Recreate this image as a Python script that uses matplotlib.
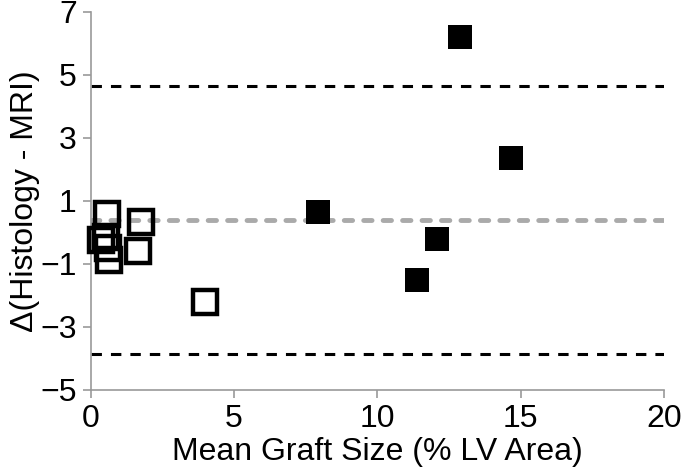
import numpy as np
import matplotlib
matplotlib.use('Agg')
import matplotlib.pyplot as plt

plt.rcParams['font.family'] = ['Liberation Sans', 'DejaVu Sans']
plt.rcParams['lines.scale_dashes'] = False

# open squares (small grafts)
open_x = [0.58, 1.75, 1.64, 0.35, 0.55, 0.60, 0.63, 3.99]
open_y = [0.57, 0.32, -0.60, -0.25, -0.15, -0.50, -0.87, -2.20]

# filled squares (large grafts)
fill_x = [12.87, 14.65, 7.93, 12.07, 11.40]
fill_y = [6.21, 2.36, 0.65, -0.21, -1.50]

bias = 0.40
upper_loa = 4.65
lower_loa = -3.86

xticks = [0, 5, 10, 15, 20]
yticks = [-5, -3, -1, 1, 3, 5, 7]

fig = plt.figure(figsize=(6.81, 4.76), dpi=100)
ax = fig.add_axes([0.133, 0.181, 0.842, 0.794])

ax.plot([0, 20], [upper_loa, upper_loa], color='black', lw=2.2, dashes=(7.5, 6.5), zorder=1)
ax.plot([0, 20], [lower_loa, lower_loa], color='black', lw=2.2, dashes=(7.5, 6.5), zorder=1)
ax.plot([0, 20], [bias, bias], color='#aaaaaa', lw=3.5, dashes=(6, 8),
        dash_capstyle='round', zorder=1)

ax.plot(open_x, open_y, 's', ms=16.8, mfc='none', mec='black', mew=3.2, zorder=3, clip_on=False)
ax.plot(fill_x, fill_y, 's', ms=17, mfc='black', mec='black', mew=0, zorder=3, clip_on=False)

ax.set_xlim(0, 20)
ax.set_ylim(-5, 7)
ax.set_xticks(xticks)
ax.set_yticks(yticks)

for s in ['top', 'right']:
    ax.spines[s].set_visible(False)
for s in ['left', 'bottom']:
    ax.spines[s].set_color('#999999')
    ax.spines[s].set_linewidth(1.2)
ax.tick_params(colors='#999999', labelcolor='black', labelsize=23, length=6, width=1.2, pad=4)

ax.set_xlabel('Mean Graft Size (% LV Area)', fontsize=23, labelpad=2)
ax.set_ylabel('\u0394(Histology - MRI)', fontsize=23, labelpad=0)

fig.savefig('out.png', dpi=100)
